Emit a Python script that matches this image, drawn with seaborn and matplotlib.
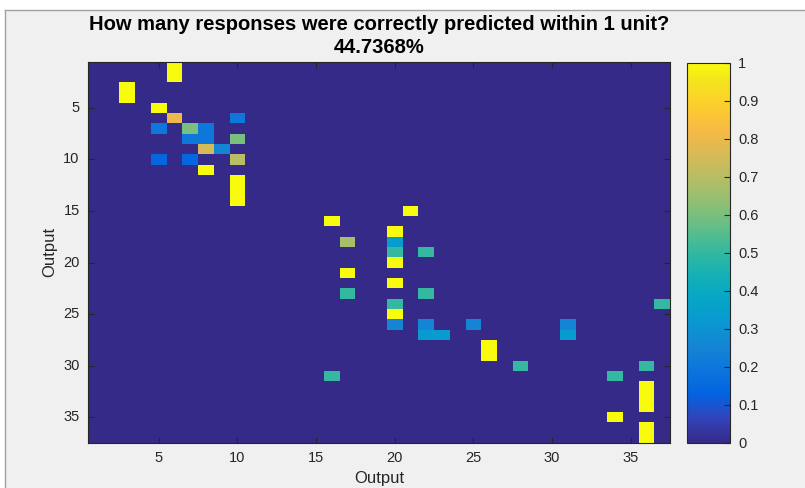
import numpy as np
import matplotlib
matplotlib.use('Agg')
import matplotlib.pyplot as plt
from matplotlib.colors import LinearSegmentedColormap
from matplotlib.patches import Rectangle
import seaborn as sns

# cellules non nulles (colonne, ligne, valeur), indices 1..37
n = 37
cell_cols = [6, 6, 3, 3, 5, 6, 10, 5, 7, 8, 7, 8, 10, 8, 9, 5, 7, 10, 8, 10, 10, 10,
             21, 16, 20, 17, 20, 20, 22, 20, 17, 20, 17, 22, 20, 37, 20, 20, 22, 25, 31,
             22, 23, 31, 26, 26, 28, 36, 16, 34, 36, 36, 36, 34, 36, 36]
cell_rows = [1, 2, 3, 4, 5, 6, 6, 7, 7, 7, 8, 8, 8, 9, 9, 10, 10, 10, 11, 12, 13, 14,
             15, 16, 17, 18, 18, 19, 19, 20, 21, 22, 23, 23, 24, 24, 25, 26, 26, 26, 26,
             27, 27, 27, 28, 29, 30, 30, 31, 31, 32, 33, 34, 35, 36, 37]
cell_vals = [1, 1, 1, 1, 1, 0.8, 0.2, 0.2, 0.6, 0.2, 0.2, 0.2, 0.6, 0.75, 0.25, 0.14, 0.14, 0.7, 1, 1, 1, 1,
             1, 1, 1, 0.67, 0.33, 0.5, 0.5, 1, 1, 1, 0.5, 0.5, 0.5, 0.5, 1, 0.25, 0.25, 0.25, 0.25,
             0.33, 0.33, 0.33, 1, 1, 0.5, 0.5, 0.5, 0.5, 1, 1, 1, 1, 1, 1]

tick_vals = [5, 10, 15, 20, 25, 30, 35]
cbar_ticks = [0, 0.1, 0.2, 0.3, 0.4, 0.5, 0.6, 0.7, 0.8, 0.9, 1]

title_txt = 'How many responses were correctly predicted within 1 unit?\n44.7368%'

mat = np.zeros((n, n))
for c, r, v in zip(cell_cols, cell_rows, cell_vals):
    mat[r - 1, c - 1] = v

# approximation de parula (MATLAB), points pris tous les 4 sur 64
parula_idx = [0, 4, 8, 12, 16, 20, 24, 28, 32, 36, 40, 44, 48, 52, 56, 60, 63]
parula_rgb = [(0.2081, 0.1663, 0.5292), (0.1959, 0.2645, 0.7279), (0.0117, 0.3875, 0.8820),
              (0.0498, 0.4586, 0.8641), (0.0793, 0.5200, 0.8312), (0.0343, 0.5966, 0.8199),
              (0.0228, 0.6535, 0.7768), (0.0843, 0.6928, 0.7062), (0.2178, 0.7250, 0.6193),
              (0.3953, 0.7459, 0.5244), (0.5709, 0.7485, 0.4494), (0.7184, 0.7411, 0.3905),
              (0.8507, 0.7299, 0.3360), (0.9739, 0.7314, 0.2666), (0.9880, 0.8066, 0.1794),
              (0.9589, 0.8949, 0.1132), (0.9763, 0.9831, 0.0538)]
parula = LinearSegmentedColormap.from_list(
    'parula', [(i / 63, c) for i, c in zip(parula_idx, parula_rgb)], N=256)

plt.rcParams['font.family'] = ['Liberation Sans', 'DejaVu Sans']
txt_col = '#262626'

fig = plt.figure(figsize=(8.05, 4.88), dpi=100, facecolor='#f0f0f0')
fig.patches.append(Rectangle((0, 1 - 10 / 488), 1, 10 / 488, transform=fig.transFigure, color='white', zorder=-1))
fig.patches.append(Rectangle((0, 0), 5 / 805, 1, transform=fig.transFigure, color='white', zorder=-1))
fig.add_artist(plt.Line2D([5 / 805, 1], [1 - 10 / 488, 1 - 10 / 488], transform=fig.transFigure, color='#a0a0a0', lw=1))
fig.add_artist(plt.Line2D([5 / 805, 5 / 805], [0, 1 - 10 / 488], transform=fig.transFigure, color='#a0a0a0', lw=1))

ax = fig.add_axes([88 / 805, 45 / 488, 582 / 805, 381.5 / 488])
cax = fig.add_axes([687 / 805, 45 / 488, 43 / 805, 380.5 / 488])

sns.heatmap(mat, cmap=parula, vmin=0, vmax=1, ax=ax, cbar_ax=cax)

ax.set_xticks([t - 0.5 for t in tick_vals])
ax.set_xticklabels([str(t) for t in tick_vals], rotation=0)
ax.set_yticks([t - 0.5 for t in tick_vals])
ax.set_yticklabels([str(t) for t in tick_vals], rotation=0)
ax.tick_params(direction='in', length=4, width=0.8, color=txt_col, labelcolor=txt_col,
               labelsize=10.5, top=True, right=True, pad=6)
for s in ax.spines.values():
    s.set_visible(True)
    s.set_color(txt_col)
    s.set_linewidth(0.8)
ax.set_xlabel('Output', fontsize=12, color=txt_col, labelpad=4)
ax.set_ylabel('Output', fontsize=12, color=txt_col, labelpad=4)
ax.set_title(title_txt, fontsize=14.5, fontweight='bold', color='black', pad=6, linespacing=1.3)

cbar = ax.collections[0].colorbar
cbar.set_ticks(cbar_ticks)
cbar.set_ticklabels(['{:g}'.format(t) for t in cbar_ticks])
cax.tick_params(direction='in', length=4, width=0.8, color=txt_col, labelcolor=txt_col,
                labelsize=10.5, pad=6)
cbar.outline.set_visible(True)
cbar.outline.set_edgecolor(txt_col)
cbar.outline.set_linewidth(0.8)

fig.savefig('out.png', dpi=100, facecolor=fig.get_facecolor())
